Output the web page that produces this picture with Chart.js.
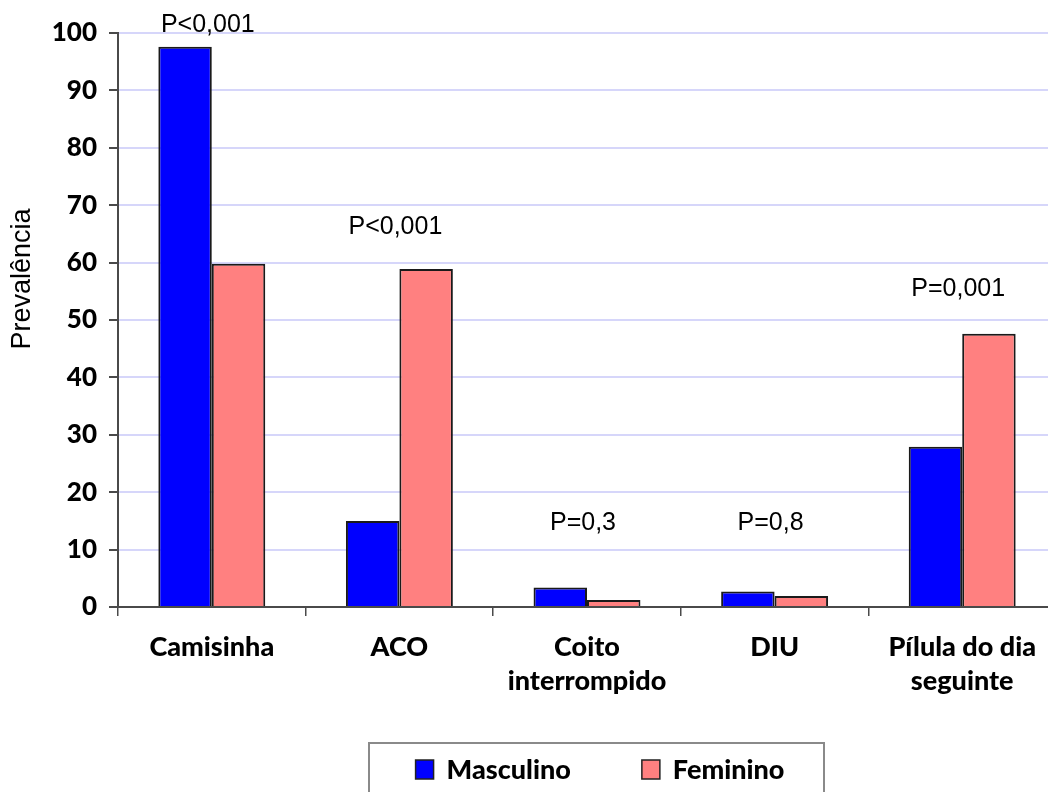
<!DOCTYPE html>
<html><head><meta charset="utf-8">
<script src="https://cdn.jsdelivr.net/npm/chart.js@4.4.0/dist/chart.umd.min.js"></script>
<style>
html,body{margin:0;padding:0;overflow:hidden;background:#fff;width:1048px;height:792px}
#wrap{position:absolute;left:0;top:0;width:1060px;height:792px}
</style>
</head><body><div id="wrap"><canvas id="c" width="1060" height="792"></canvas></div>
<script>
const categories = ['Camisinha', 'ACO', ['Coito', 'interrompido'], 'DIU', ['Pílula do dia', 'seguinte']];
const seriesNames = ['Masculino', 'Feminino'];
const masculino = [97.6, 15.0, 3.4, 2.7, 27.9];
const feminino = [59.8, 58.9, 1.2, 1.9, 47.6];
const yTickValues = [0, 10, 20, 30, 40, 50, 60, 70, 80, 90, 100];
const pValueLabels = ['P<0,001', 'P<0,001', 'P=0,3', 'P=0,8', 'P=0,001'];
const pValueLabelY = [101.4, 66.2, 14.6, 14.6, 55.4];
const yTitle = 'Prevalência';

const AXIS = '#4a4a4a';
const BOLD = 900;

const extras = {
  id: 'extras',
  afterDraw(chart) {
    const ctx = chart.ctx, x = chart.scales.x, y = chart.scales.y, ca = chart.chartArea;
    ctx.save();
    // p-value annotations
    ctx.font = '25px "Liberation Sans"';
    ctx.fillStyle = '#000';
    ctx.textAlign = 'center';
    ctx.textBaseline = 'middle';
    pValueLabels.forEach((t, i) => {
      ctx.fillText(t, x.getPixelForValue(i) - 4, y.getPixelForValue(pValueLabelY[i]));
    });
    // y axis title
    ctx.save();
    ctx.translate(23, (ca.top + ca.bottom) / 2 - 41);
    ctx.rotate(-Math.PI / 2);
    ctx.font = '27px "Liberation Sans"';
    ctx.fillText(yTitle, 0, 0);
    ctx.restore();
    // legend box
    ctx.strokeStyle = '#8a8a8a';
    ctx.lineWidth = 2;
    ctx.strokeRect(369, 743, 455, 70);
    // legend items
    const ds = chart.data.datasets;
    ctx.font = BOLD + ' 27px Lato';
    const box = 18, gapText = 13, gapItem = 71;
    const widths = ds.map(d => ctx.measureText(d.label).width);
    let total = 0;
    widths.forEach((w, i) => { total += box + gapText + w + (i < widths.length - 1 ? gapItem : 0); });
    const cx = 600, cy = 770;
    let px = cx - total / 2;
    ctx.textAlign = 'left';
    ds.forEach((d, i) => {
      ctx.fillStyle = d.backgroundColor;
      ctx.fillRect(px, cy - 10, box, 19);
      ctx.strokeStyle = '#222';
      ctx.lineWidth = 1.5;
      ctx.strokeRect(px, cy - 10, box, 19);
      ctx.fillStyle = '#000';
      ctx.fillText(d.label, px + box + gapText, cy);
      px += box + gapText + widths[i] + gapItem;
    });
    ctx.restore();
  }
};

new Chart(document.getElementById('c'), {
  type: 'bar',
  data: {
    labels: categories,
    datasets: [
      { label: seriesNames[0], data: masculino, backgroundColor: '#0000FF', borderColor: '#1a1a1a', borderWidth: 2 },
      { label: seriesNames[1], data: feminino, backgroundColor: '#FF8080', borderColor: '#1a1a1a', borderWidth: 2 }
    ]
  },
  options: {
    responsive: false,
    animation: false,
    devicePixelRatio: 1,
    categoryPercentage: 0.57,
    barPercentage: 1.0,
    layout: { padding: { top: 33, left: 0, right: 4, bottom: 0 } },
    plugins: { legend: { display: false }, tooltip: { enabled: false } },
    scales: {
      x: {
        afterFit(s) { s.height = 185; },
        border: { display: true, color: AXIS, width: 2 },
        grid: { display: true, drawOnChartArea: false, drawTicks: true, tickLength: 9, color: AXIS, lineWidth: 1.5, offset: true },
        ticks: { color: '#000', padding: 14, font: { family: 'Lato', weight: BOLD, size: 27, lineHeight: 1.26 }, maxRotation: 0, autoSkip: false }
      },
      y: {
        min: 0, max: 100,
        afterFit(s) { s.width = 118; },
        afterBuildTicks(s) { s.ticks = yTickValues.map(v => ({ value: v })); },
        border: { display: true, color: AXIS, width: 2 },
        grid: { color: '#d6d6fa', lineWidth: 2, tickColor: AXIS, tickLength: 9, drawTicks: true },
        ticks: { color: '#000', padding: 12, font: { family: 'Lato', weight: BOLD, size: 26 } }
      }
    }
  },
  plugins: [extras]
});
</script>
</body></html>
